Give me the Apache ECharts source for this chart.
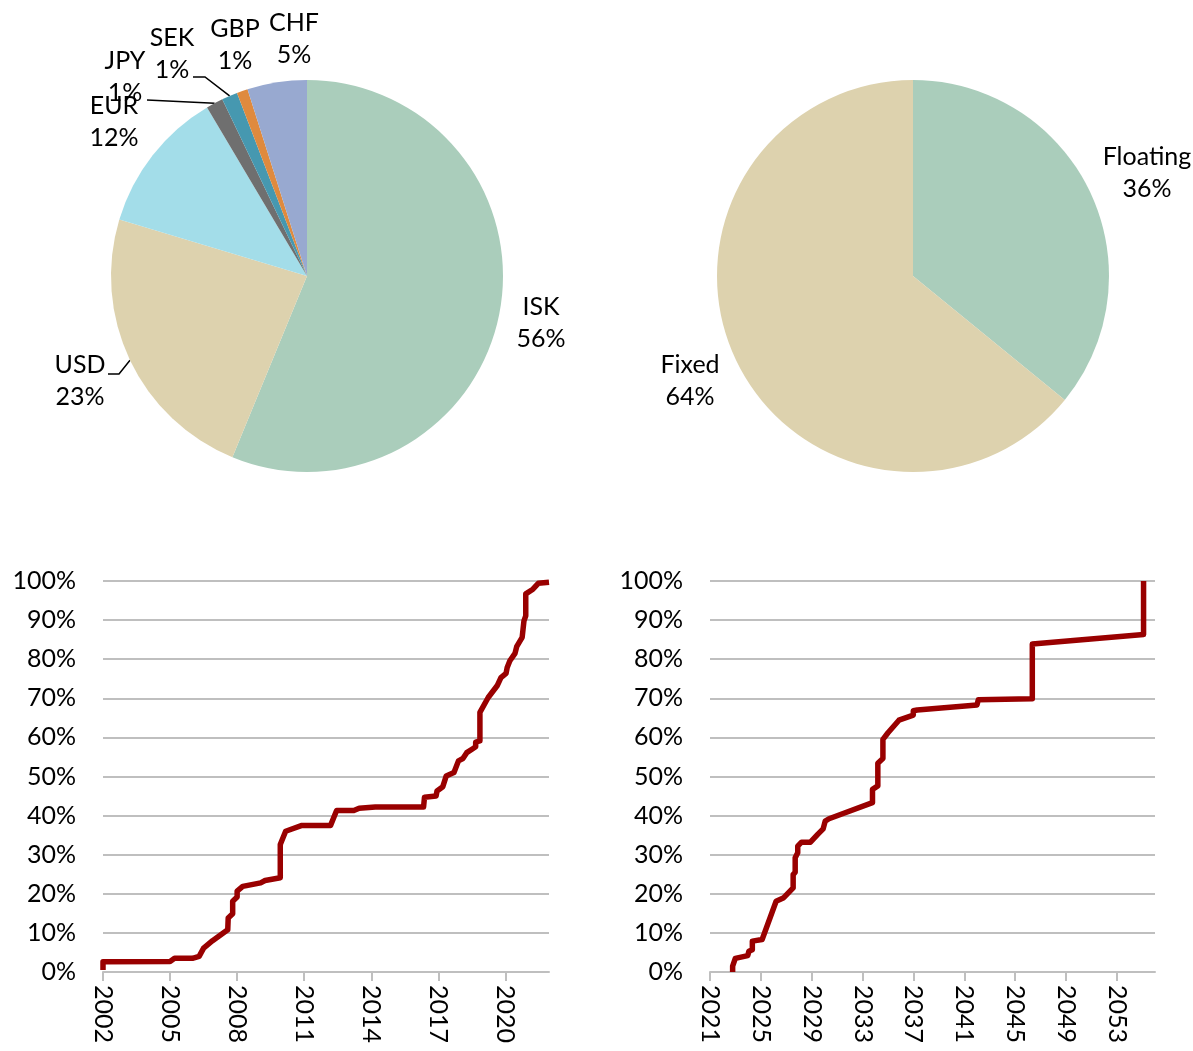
<!DOCTYPE html>
<html>
<head>
<meta charset="utf-8">
<script src="https://cdn.jsdelivr.net/npm/echarts@6/dist/echarts.min.js"></script>
<style>
html,body{margin:0;padding:0;background:#fff;}
#c{width:1193px;height:1051px;}
</style>
</head>
<body>
<div id="c"></div>
<script>
// ---------- DATA ----------
const currencyNames = ['ISK', 'USD', 'EUR', 'JPY', 'SEK', 'GBP', 'CHF'];
const currencyShares = [56.1, 23.4, 11.8, 1.4, 1.3, 0.9, 4.9];
const rateNames = ['Floating', 'Fixed'];
const rateShares = [35.9, 64.1];

// cumulative share, historical (year, %)
const pastYears = [2002, 2002, 2005.0, 2005.2, 2006.0, 2006.3, 2006.5, 2006.9, 2007.58, 2007.6, 2007.8, 2007.8, 2008.0, 2008.0, 2008.25, 2009.05, 2009.25, 2009.93, 2009.93, 2010.17, 2010.9, 2012.18, 2012.45, 2013.22, 2013.46, 2014.18, 2016.34, 2016.38, 2016.9, 2016.94, 2017.2, 2017.35, 2017.7, 2017.9, 2018.1, 2018.27, 2018.54, 2018.67, 2018.67, 2018.86, 2018.86, 2019.23, 2019.63, 2019.8, 2020.03, 2020.08, 2020.2, 2020.43, 2020.51, 2020.75, 2020.83, 2020.91, 2020.91, 2021.23, 2021.47, 2021.95];
const pastCum =   [0.5, 2.6, 2.7, 3.5, 3.5, 4.0, 6.1, 8.0, 10.8, 13.8, 14.9, 18.1, 19.2, 20.7, 21.9, 22.8, 23.4, 24.1, 32.6, 36.0, 37.5, 37.5, 41.3, 41.3, 41.9, 42.2, 42.2, 44.7, 45.0, 46.3, 47.4, 50.1, 51.0, 54.0, 54.6, 56.1, 57.1, 57.6, 58.8, 59.1, 66.4, 70.2, 73.2, 75.3, 76.4, 77.9, 79.6, 81.5, 83.3, 85.6, 89.8, 91.1, 96.7, 97.9, 99.4, 99.7];

// cumulative share, maturity profile (year, %)
const futureYears = [2022.78, 2022.78, 2022.99, 2023.97, 2024.06, 2024.33, 2024.33, 2025.1, 2026.2, 2026.8, 2027.54, 2027.54, 2027.7, 2027.7, 2027.9, 2027.9, 2028.2, 2028.9, 2029.47, 2029.9, 2030.06, 2030.36, 2033.78, 2033.78, 2034.2, 2034.2, 2034.6, 2034.6, 2035.0, 2035.86, 2036.99, 2036.99, 2037.3, 2042.0, 2042.1, 2046.35, 2046.35, 2055.1, 2055.1];
const futureCum =   [0, 1.5, 3.5, 4.2, 5.3, 5.7, 7.9, 8.3, 18.1, 19.0, 21.5, 24.9, 25.5, 29.2, 30.5, 32.2, 33.2, 33.2, 35.2, 36.6, 38.6, 39.2, 43.3, 46.7, 47.6, 53.4, 54.6, 59.5, 61.2, 64.4, 65.7, 66.8, 67.0, 68.3, 69.6, 69.9, 83.9, 86.3, 100];

const pastTicks = [2002, 2005, 2008, 2011, 2014, 2017, 2020];
const futureTicks = [2021, 2025, 2029, 2033, 2037, 2041, 2045, 2049, 2053];
const yTicks = [0, 10, 20, 30, 40, 50, 60, 70, 80, 90, 100];

// ---------- STYLE / LAYOUT ----------
const FONT = 'Lato';
const FS = 25;
const TXT = '#000';
const GRIDC = '#bfbfbf';
const LINEC = '#990000';
const currencyColors = ['#aacdbb', '#ddd2ae', '#a3dde9', '#6f6f6f', '#4698b0', '#df8a3e', '#98a9d0'];
const rateColors = ['#aacdbb', '#ddd2ae'];

// label centres for the pies
const currencyLabelPos = [[541, 323], [80, 381], [114, 122], [125, 77], [172, 54], [235, 45], [294, 39]];
const currencyLeader = { 1: [[119, 374], [108, 374]], 3: [[147, 100]], 4: [[205, 77], [193, 77]] };
const rateLabelPos = [[1147, 173], [690, 381]];

const chart = echarts.init(document.getElementById('c'), null, { renderer: 'canvas' });

function pieLabel() {
  return {
    show: true, position: 'outside', color: TXT, fontFamily: FONT, fontSize: FS, lineHeight: 32, align: 'center',
    formatter: p => p.name + '\n' + Math.round(p.percent) + '%'
  };
}

const xAxisBase = (min, max, ticks, gridIndex) => ({
  type: 'value', gridIndex, min, max,
  axisLine: { show: true, lineStyle: { color: GRIDC, width: 2 } },
  axisTick: { show: true, length: 9, customValues: ticks, lineStyle: { color: GRIDC, width: 2 } },
  axisLabel: { customValues: ticks, rotate: -90, margin: 13, color: TXT, fontFamily: FONT, fontSize: FS, formatter: v => String(v) },
  splitLine: { show: false }
});
const yAxisBase = (gridIndex) => ({
  type: 'value', gridIndex, min: 0, max: 100, interval: 10,
  axisLine: { show: false }, axisTick: { show: false },
  axisLabel: { customValues: yTicks, margin: 27, color: TXT, fontFamily: FONT, fontSize: FS, formatter: v => v + '%' },
  splitLine: { show: true, lineStyle: { color: GRIDC, width: 2 } }
});

const option = {
  backgroundColor: '#fff',
  animation: false,
  grid: [
    { left: 103, top: 581, width: 446, height: 391 },
    { left: 710, top: 581, width: 445, height: 391 }
  ],
  xAxis: [
    xAxisBase(2002, 2021.95, pastTicks, 0),
    xAxisBase(2021, 2056, futureTicks, 1)
  ],
  yAxis: [yAxisBase(0), yAxisBase(1)],
  series: [
    {
      type: 'pie', center: [307, 276], radius: 196, startAngle: 90, clockwise: true,
      avoidLabelOverlap: false,
      itemStyle: { borderWidth: 0 },
      label: pieLabel(),
      labelLine: { show: false, lineStyle: { color: '#000', width: 1.5 } },
      data: currencyNames.map((n, i) => ({
        name: n, value: currencyShares[i], itemStyle: { color: currencyColors[i] },
        labelLine: { show: !!currencyLeader[i] }
      })),
      labelLayout: function (p) {
        const pos = currencyLabelPos[p.dataIndex];
        const r = { x: pos[0], y: pos[1], align: 'center', verticalAlign: 'middle' };
        const lead = currencyLeader[p.dataIndex];
        if (lead && p.labelLinePoints) {
          r.labelLinePoints = [p.labelLinePoints[0]].concat(lead);
        }
        return r;
      }
    },
    {
      type: 'pie', center: [913, 276], radius: 196, startAngle: 90, clockwise: true,
      avoidLabelOverlap: false,
      itemStyle: { borderWidth: 0 },
      label: pieLabel(),
      labelLine: { show: false },
      data: rateNames.map((n, i) => ({ name: n, value: rateShares[i], itemStyle: { color: rateColors[i] } })),
      labelLayout: function (p) {
        const pos = rateLabelPos[p.dataIndex];
        return { x: pos[0], y: pos[1], align: 'center', verticalAlign: 'middle' };
      }
    },
    {
      type: 'line', xAxisIndex: 0, yAxisIndex: 0, showSymbol: false, symbol: 'none', clip: true,
      lineStyle: { color: LINEC, width: 5.5, join: 'round', cap: 'butt' },
      data: pastYears.map((x, i) => [x, pastCum[i]])
    },
    {
      type: 'line', xAxisIndex: 1, yAxisIndex: 1, showSymbol: false, symbol: 'none', clip: true,
      lineStyle: { color: LINEC, width: 5.5, join: 'round', cap: 'butt' },
      data: futureYears.map((x, i) => [x, futureCum[i]])
    }
  ]
};
chart.setOption(option);
</script>
</body>
</html>
